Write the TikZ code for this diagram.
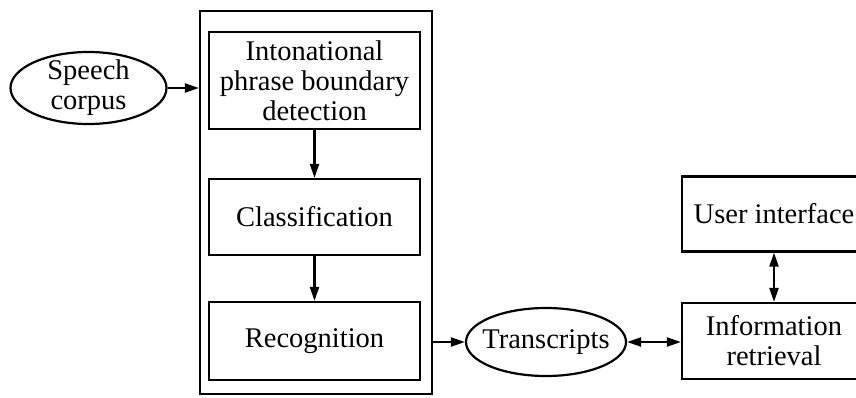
\documentclass[tikz,border=0pt]{standalone}
\usepackage{fontspec}
\setmainfont{Liberation Serif}
\usetikzlibrary{arrows.meta,shapes.geometric}

\tikzset{
  every node/.style={font=\fontsize{28.5}{30}\selectfont, align=center, inner sep=0pt},
  procbox/.style={draw, line width=2.2pt, rectangle},
  datanode/.style={draw, line width=2.2pt, ellipse, inner sep=-12pt},
  flow/.style={line width=2.2pt, -{Triangle[length=14pt,width=9pt]}},
  twoway/.style={line width=2.2pt, {Triangle[length=14pt,width=9pt]}-{Triangle[length=14pt,width=9pt]}}
}

\begin{document}
\begin{tikzpicture}[x=1pt,y=-1pt]
  \useasboundingbox (0,0) rectangle (856,398);

  % processing stage with its three steps
  \node[procbox, minimum width=232pt, minimum height=383pt] (stage) at (316,202.5) {};
  \node[procbox, minimum width=211pt, minimum height=97pt] (ipb) at (314.5,80.5)
    {Intonational\\phrase boundary\\detection};
  \node[procbox, minimum width=211pt, minimum height=76pt] (cls) at (314.5,217) {Classification};
  \node[procbox, minimum width=211pt, minimum height=78pt] (rec) at (314.5,341) {Recognition};

  % input and output data
  \node[datanode, minimum width=156pt, minimum height=72pt] (corpus) at (88.5,88) {Speech\\corpus};
  \node[datanode, minimum width=160pt, minimum height=68pt] (trans) at (546,342) {Transcripts};

  % retrieval side
  \node[procbox, minimum width=184pt, minimum height=76pt] (ir) at (774,341) {Information\\retrieval};
  \node[procbox, minimum width=184pt, minimum height=75pt] (ui) at (774,214) {User interface};

  % connectors
  \draw[flow] (corpus.east) -- (corpus.east -| stage.west);
  \draw[flow] (ipb) -- (cls);
  \draw[flow] (cls) -- (rec);
  \draw[flow] (trans.west -| stage.east) -- (trans.west);
  \draw[twoway] (trans.east) -- (trans.east -| ir.west);
  \draw[twoway] (ui) -- (ir);
\end{tikzpicture}
\end{document}
